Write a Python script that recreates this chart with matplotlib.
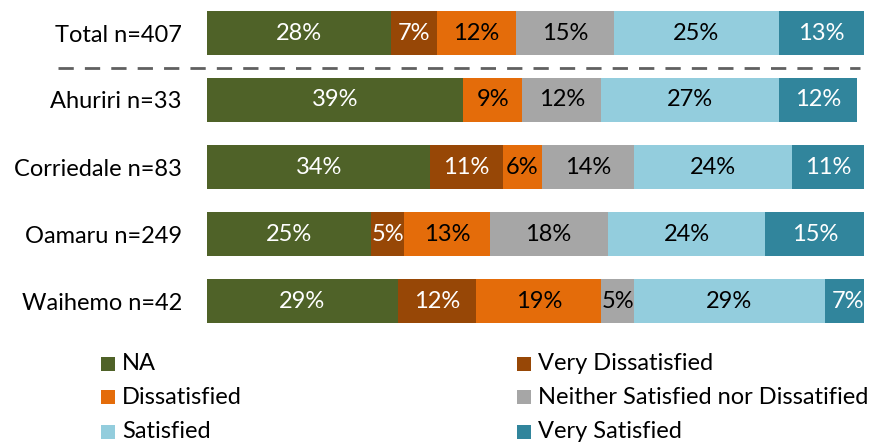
import matplotlib.pyplot as plt
from matplotlib.patches import Rectangle

plt.rcParams['font.family'] = ['Lato', 'DejaVu Sans']

groups = ['Total n=407', 'Ahuriri n=33', 'Corriedale n=83', 'Oamaru n=249', 'Waihemo n=42']
categories = ['NA', 'Very Dissatisfied', 'Dissatisfied',
              'Neither Satisfied nor Dissatified', 'Satisfied', 'Very Satisfied']

na = [28, 39, 34, 25, 29]
very_dissatisfied = [7, 0, 11, 5, 12]
dissatisfied = [12, 9, 6, 13, 19]
neither = [15, 12, 14, 18, 5]
satisfied = [25, 27, 24, 24, 29]
very_satisfied = [13, 12, 11, 15, 7]

series = [na, very_dissatisfied, dissatisfied, neither, satisfied, very_satisfied]
colors = ['#4F6228', '#974706', '#E46C0A', '#A6A6A6', '#93CDDD', '#31859C']
text_colors = ['white', 'white', 'black', 'black', 'black', 'white']

W, H = 882, 443
fig = plt.figure(figsize=(W / 100, H / 100), dpi=100)

# axes spans the bar area; rows are 67px apart, first centre 33px from the top
row = 67.0
top_px, bottom_px = 0, 340
ax = fig.add_axes([207 / W, 1 - bottom_px / H, 657 / W, (bottom_px - top_px) / H])
ax.set_xlim(0, 100)
ax.set_ylim((bottom_px - 33) / row, (top_px - 33) / row)

ypos = list(range(len(groups)))
left = [0] * len(groups)
for vals, col, tcol in zip(series, colors, text_colors):
    ax.barh(ypos, vals, left=left, height=0.66, color=col, linewidth=0)
    for y, v, l in zip(ypos, vals, left):
        if v > 0:
            ax.text(l + v / 2, y, f'{v}%', ha='center', va='center',
                    color=tcol, fontsize=17)
    left = [a + b for a, b in zip(left, vals)]

ax.set_yticks(ypos)
ax.set_yticklabels(groups, fontsize=17)
ax.tick_params(axis='y', length=0, pad=18)
ax.set_xticks([])
for s in ax.spines.values():
    s.set_visible(False)

# dashed separator between total and the districts
sep_y = (68 - 33) / row
ax.plot([(58 - 207) / 6.57, (860 - 207) / 6.57], [sep_y, sep_y],
        color='#606060', lw=2, dashes=(5.5, 4), clip_on=False)

# legend in two columns, row by row
col_x = [101, 517]
row_y = [364, 397, 432]
sq = 14
for i, (name, col) in enumerate(zip(categories, colors)):
    x = col_x[i % 2]
    y = row_y[i // 2]
    fig.add_artist(Rectangle((x / W, 1 - (y + sq / 2) / H), sq / W, sq / H,
                             transform=fig.transFigure, color=col, lw=0))
    fig.text((x + sq + 7) / W, 1 - y / H, name, ha='left', va='center',
             fontsize=17, color='black')

fig.savefig('out.png', dpi=100)
